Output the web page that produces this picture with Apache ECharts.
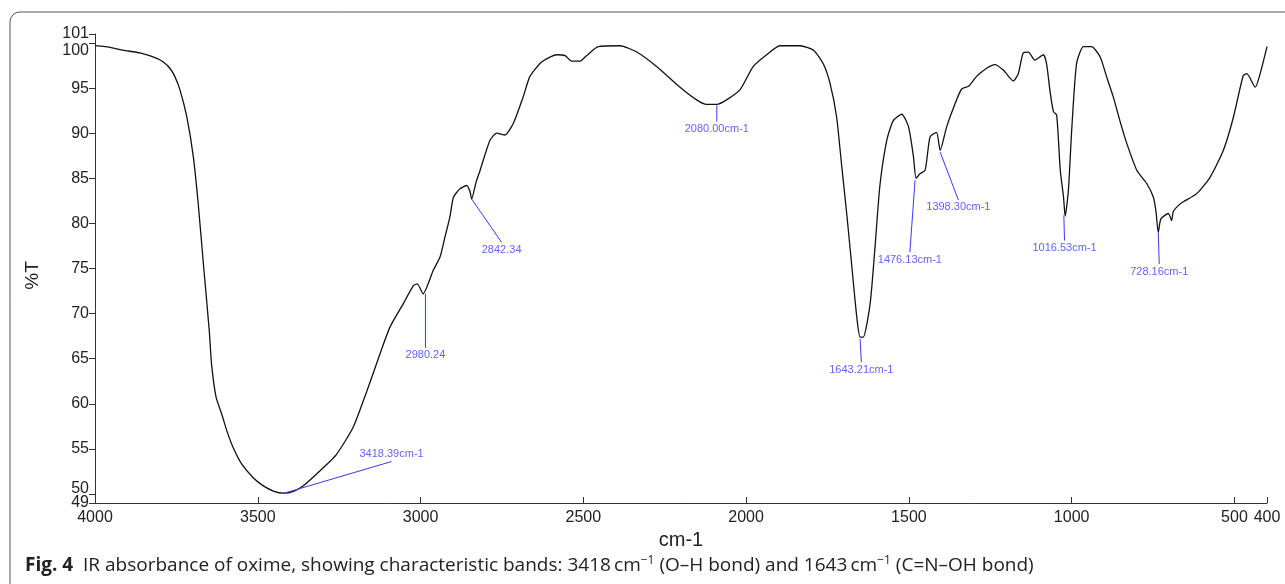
<!DOCTYPE html>
<html>
<head>
<meta charset="utf-8">
<title>IR spectrum of oxime</title>
<script src="https://cdn.jsdelivr.net/npm/echarts@6/dist/echarts.min.js"></script>
<style>
  html, body { margin: 0; padding: 0; background: #fff; }
  #main { width: 1285px; height: 584px; }
</style>
</head>
<body>
<div id="main"></div>
<script>
// wavenumber (cm-1) and %T
let wavenumbers = [4000, 3950, 3914, 3862, 3810, 3790, 3770, 3755, 3739, 3718, 3698, 3683, 3667, 3649, 3642, 3628, 3611,
    3595, 3575, 3549, 3514, 3483, 3450, 3422, 3390, 3360, 3299, 3258, 3207, 3165, 3125, 3094, 3053, 3022, 3010, 2992,
    2961, 2940, 2925, 2910, 2899, 2880, 2858, 2848, 2843, 2830, 2817, 2787, 2766, 2741, 2715, 2685, 2664,
    2628, 2582, 2556, 2536, 2510, 2490, 2454, 2387, 2336, 2275, 2203, 2152, 2121, 2090, 2060, 2019, 1978,
    1937, 1896, 1834, 1793, 1763, 1742, 1722, 1707, 1691, 1676, 1660, 1650, 1640, 1619, 1604, 1589, 1568,
    1548, 1522, 1501, 1486, 1478, 1466, 1450, 1435, 1415, 1404, 1384, 1358, 1338, 1317, 1292, 1261, 1236,
    1210, 1179, 1164, 1149, 1133, 1113, 1087, 1077, 1067, 1056, 1046, 1035, 1025, 1020, 1010, 1000, 985,
    964, 939, 913, 893, 872, 852, 831, 800, 769, 749, 741, 734, 726, 703, 693, 688, 672, 657, 616, 575,
    534, 503, 473, 462, 436, 421, 400];
let transmittance = [99.7, 99.5, 99.2, 98.9, 98.3, 97.9, 97.2, 96.3, 94.8, 91.8, 87.4, 82.2, 75.5, 68.1, 64.4, 60.7, 58.9,
    57.0, 55.1, 53.3, 51.8, 50.9, 50.3, 50.1, 50.3, 50.9, 52.9, 54.4, 57.4, 61.4, 65.5, 68.5, 71.1, 73.1, 73.3, 72.2,
    74.8, 76.3, 78.5, 80.7, 82.9, 83.8, 84.2, 83.5, 82.7, 84.5, 85.9, 89.2, 90.0, 89.8, 91.1, 94.0, 96.3,
    97.9, 98.7, 98.6, 98.0, 98.0, 98.6, 99.6, 99.7, 99.0, 97.4, 95.1, 93.7, 93.2, 93.2, 93.7, 94.8, 97.4,
    98.7, 99.7, 99.7, 99.2, 97.7, 95.5, 91.8, 86.6, 81.1, 75.5, 69.6, 67.4, 67.4, 71.1, 77.4, 84.2, 89.2,
    91.4, 92.1, 90.7, 87.4, 85.0, 85.5, 85.9, 89.6, 90.1, 88.1, 90.7, 93.3, 94.9, 95.2, 96.3, 97.2, 97.6,
    97.0, 95.8, 96.6, 98.9, 99.0, 98.1, 98.7, 97.7, 94.8, 92.4, 92.0, 85.9, 82.9, 80.8, 83.7, 90.3, 97.7,
    99.6, 99.6, 98.5, 96.3, 94.0, 91.4, 88.9, 85.9, 84.4, 82.9, 81.3, 79.0, 80.5, 81.1, 80.3, 81.3, 82.0, 82.4, 83.3, 85.1,
    88.1, 91.8, 96.4, 96.6, 95.1, 96.6, 99.6];

// tick labels
let xTicks = [4000, 3500, 3000, 2500, 2000, 1500, 1000, 500, 400];
let yTicks = [49, 50, 55, 60, 65, 70, 75, 80, 85, 90, 95, 100, 101];

// peak annotations: text, tip of leader line, end of leader line, side of label
let peakNames = ['3418.39cm-1', '2980.24', '2842.34', '2080.00cm-1', '1643.21cm-1',
    '1476.13cm-1', '1398.30cm-1', '1016.53cm-1', '728.16cm-1'];
let peakTips = [[3418, 50.1], [2985, 72.2], [2843, 82.7], [2090, 93.1], [1650, 67.2],
    [1481, 84.8], [1404, 87.9], [1024, 80.9], [734, 79.0]];
let peakEnds = [[3089, 53.6], [2985, 66.2], [2751, 77.9], [2090, 91.3], [1646, 64.6],
    [1497, 76.8], [1348, 82.6], [1022, 78.1], [731, 75.5]];
let peakSides = ['top', 'bottom', 'bottom', 'bottom', 'bottom', 'bottom', 'bottom', 'bottom', 'bottom'];

let myChart = echarts.init(document.getElementById('main'));

let blue = '#3838ff';
let axisFont = 'Liberation Sans, Arial, sans-serif';
let yMin = yTicks[0];
let yMax = yTicks[yTicks.length - 1];

let spectrum = wavenumbers.map(function (w, i) { return [w, transmittance[i]]; });

let series = [{
    type: 'line',
    data: spectrum,
    showSymbol: false,
    smooth: 0.2,
    lineStyle: { color: '#111', width: 1.3 },
    z: 3
}];

// leader lines
peakNames.forEach(function (name, i) {
    series.push({
        type: 'line',
        data: [peakTips[i], peakEnds[i]],
        showSymbol: false,
        itemStyle: { color: blue },
        lineStyle: { color: blue, width: 1 },
        z: 4
    });
});

// peak labels
series.push({
    type: 'scatter',
    symbolSize: 2,
    itemStyle: { color: 'rgba(0,0,0,0)' },
    data: peakEnds.map(function (p, i) {
        return {
            value: p,
            label: {
                show: true,
                position: peakSides[i],
                distance: 1,
                formatter: peakNames[i],
                color: blue,
                fontSize: 11,
                fontFamily: axisFont
            }
        };
    }),
    z: 5
});

let yLabelStyle = {
    fontSize: 16,
    color: '#222',
    fontFamily: axisFont,
    margin: 6,
    formatter: function (v) {
        if (v === 100) return '{dn|100}';
        if (v === 50) return '{up|50}';
        return String(v);
    },
    rich: {
        dn: { fontSize: 16, color: '#222', fontFamily: axisFont, padding: [16, 0, 0, 0] },
        up: { fontSize: 16, color: '#222', fontFamily: axisFont, padding: [0, 0, 10, 0] }
    }
};

let option = {
    animation: false,
    backgroundColor: '#fff',
    grid: { left: 95, right: 18, top: 34, bottom: 81 },
    xAxis: {
        type: 'value',
        min: 400,
        max: 4000,
        inverse: true,
        name: 'cm-1',
        nameLocation: 'middle',
        nameGap: 27,
        nameTextStyle: { fontSize: 20, color: '#222', fontFamily: axisFont },
        axisLine: { lineStyle: { color: '#333', width: 1 } },
        axisTick: { inside: true, length: 6, customValues: xTicks, lineStyle: { color: '#333' } },
        axisLabel: {
            customValues: xTicks,
            showMinLabel: true,
            showMaxLabel: true,
            fontSize: 16,
            color: '#222',
            fontFamily: axisFont,
            margin: 7,
            formatter: function (v) { return String(v); }
        },
        splitLine: { show: false }
    },
    yAxis: [
        {
            // main axis: every tick above the minimum
            type: 'value',
            min: yMin,
            max: yMax,
            name: '%T',
            nameLocation: 'middle',
            nameRotate: 90,
            nameGap: 53,
            nameTextStyle: { fontSize: 19, color: '#222', fontFamily: axisFont, padding: [0, 14, 0, 0] },
            axisLine: { show: true, lineStyle: { color: '#333', width: 1 } },
            axisTick: { show: true, length: 6, customValues: yTicks.slice(1), lineStyle: { color: '#333' } },
            axisLabel: Object.assign({ customValues: yTicks.slice(1), showMaxLabel: true }, yLabelStyle),
            splitLine: { show: false }
        },
        {
            // the minimum label alone, so it does not knock out its neighbour
            type: 'value',
            min: yMin,
            max: yMax,
            position: 'left',
            axisLine: { show: false },
            axisTick: { show: true, length: 6, customValues: yTicks.slice(0, 1), lineStyle: { color: '#333' } },
            axisLabel: Object.assign({ customValues: yTicks.slice(0, 1), showMinLabel: true }, yLabelStyle),
            splitLine: { show: false }
        }
    ],
    graphic: [
        {
            type: 'rect',
            z: -1,
            shape: { x: 10, y: 12, width: 1300, height: 590, r: 10 },
            style: { fill: 'none', stroke: '#555', lineWidth: 1 }
        },
        {
            type: 'text',
            x: 25,
            y: 555,
            style: {
                text: '{b|Fig. 4}  IR absorbance of oxime, showing characteristic bands: 3418\u2009cm{s|\u22121} (O\u2013H bond) and 1643\u2009cm{s|\u22121} (C=N\u2013OH bond)',
                fontFamily: 'Open Sans, sans-serif',
                fontSize: 19,
                fill: '#222',
                rich: {
                    b: { fontFamily: 'Open Sans, sans-serif', fontSize: 19, fontWeight: 'bold', color: '#111' },
                    s: { fontFamily: 'Open Sans, sans-serif', fontSize: 12, color: '#222', verticalAlign: 'top', padding: [0, 0, 9, 0] }
                }
            }
        }
    ],
    series: series
};

myChart.setOption(option);
</script>
</body>
</html>
